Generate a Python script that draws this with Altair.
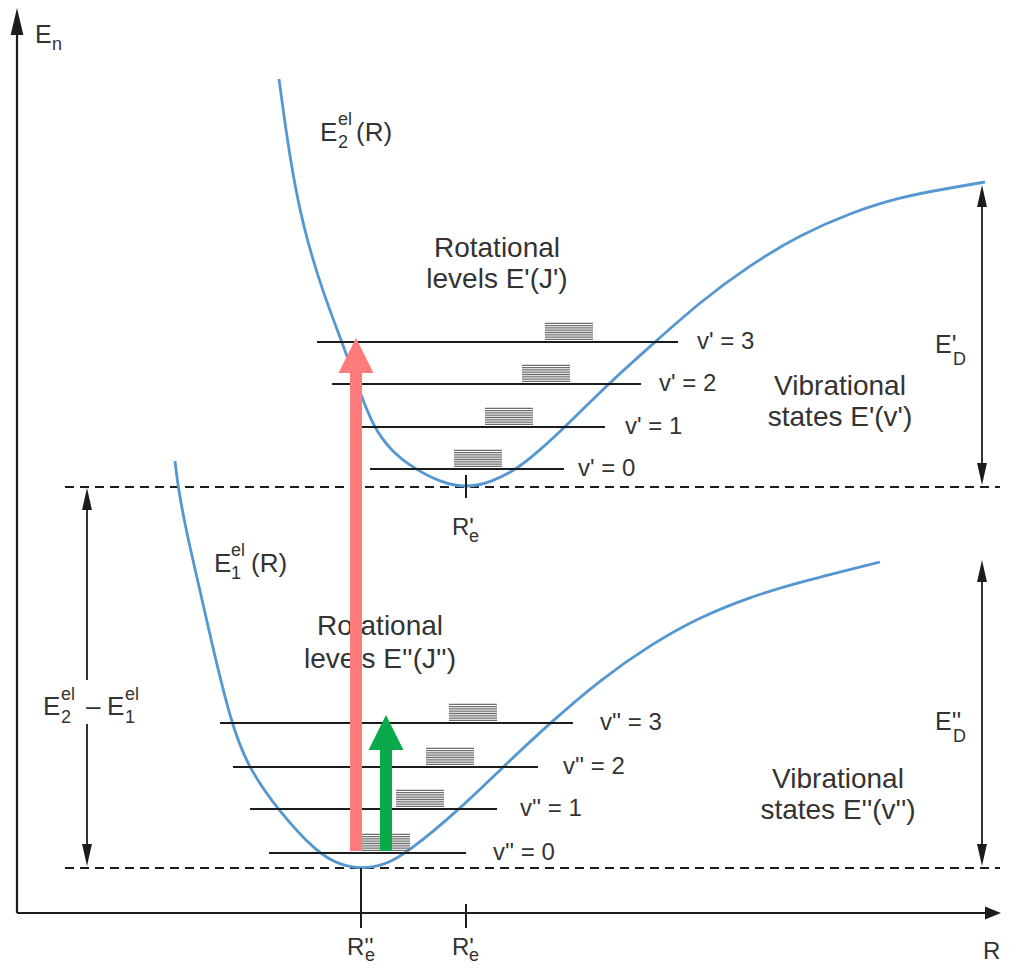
import altair as alt
import pandas as pd

# ---------------- data ----------------
# potential curves (R, E)
upper_R = [279, 290, 303, 323, 342, 357, 373, 392, 415, 440, 466, 492, 517, 540, 565, 608, 655, 700, 750, 800, 850, 900, 950, 985]
upper_E = [895, 814, 747, 681, 632, 590, 547, 522, 505, 492, 486, 492, 505, 524, 547, 590, 632, 672, 709, 739, 761, 777, 786, 792]
lower_R = [175, 178, 186, 196, 211, 231, 248, 277, 317, 340, 362, 385, 407, 460, 503, 550, 600, 650, 700, 750, 800, 880]
lower_E = [513, 487, 444, 401, 334, 251, 207, 165, 121, 109, 105, 109, 121, 165, 207, 251, 294, 329, 357, 377, 392, 412]

# vibrational levels
level_names = ["v' = 3", "v' = 2", "v' = 1", "v' = 0", "v'' = 3", "v'' = 2", "v'' = 1", "v'' = 0"]
level_E = [632, 590, 547, 505, 251, 207, 165, 121]
level_R0 = [317, 332, 362, 370, 220, 233, 250, 269]
level_R1 = [678, 641, 605, 564, 573, 538, 497, 466]
level_label_R = [697, 659, 625, 578, 600, 563, 520, 493]
# rotational level blocks (left edge)
rot_R0 = [545, 522, 485, 454, 449, 426, 396, 362]
rot_width = 48
n_rot = 8

# dissociation / minimum reference lines
dashed_E = [487, 106]
dashed_R = [65, 1000]

# axes
axis_R0, axis_R1 = 17, 990
axis_E0, axis_E1 = 61, 945
axis_tip_R, axis_tip_E = 1001, 966

# ticks (R, E from, E to)
tick_R = [361, 466, 466]
tick_E0 = [46, 46, 476]
tick_E1 = [106, 70, 499]

# double arrows (R, top tip, bottom tip)
darrow_R = [982, 982, 87]
darrow_top = [789, 414, 486]
darrow_bot = [489, 108, 108]
left_gap = [250, 294]

# transitions (R, E start, E tip)
trans_name = ["red", "green"]
trans_R = [356, 386]
trans_E0 = [123, 123]
trans_tip = [636, 259]
trans_color = ["#ff7b7b", "#0aaa4a"]

# ---------------- helpers ----------------
XS = alt.Scale(domain=[8, 1002], nice=False, zero=False)
YS = alt.Scale(domain=[8, 966], nice=False, zero=False)


def X(f):
    return alt.X(f, type="quantitative", scale=XS, axis=None)


def Y(f):
    return alt.Y(f, type="quantitative", scale=YS, axis=None)


LINE = "#1c1c1c"
TEXT = "#333333"
FONT = "Liberation Sans"

layers = []

# dashed lines
dash_df = pd.DataFrame({"E": dashed_E, "R0": dashed_R[0], "R1": dashed_R[1]})
layers.append(alt.Chart(dash_df).mark_rule(color=LINE, strokeWidth=1.8, strokeDash=[9, 6]).encode(
    x=X("R0"), x2="R1", y=Y("E")))

# curves
curve_df = pd.concat([
    pd.DataFrame({"R": upper_R, "E": upper_E, "c": "upper", "o": range(len(upper_R))}),
    pd.DataFrame({"R": lower_R, "E": lower_E, "c": "lower", "o": range(len(lower_R))}),
])
layers.append(alt.Chart(curve_df).mark_line(color="#5597d1", strokeWidth=2.8, interpolate="basis").encode(
    x=X("R"), y=Y("E"), detail="c:N", order="o:Q"))

# level lines
lev_df = pd.DataFrame({"name": level_names, "E": level_E, "R0": level_R0, "R1": level_R1,
                       "LR": level_label_R, "rot": rot_R0})
layers.append(alt.Chart(lev_df).mark_rule(color=LINE, strokeWidth=2.2).encode(
    x=X("R0"), x2="R1", y=Y("E")))

# rotational stripes
rows = []
for e, r0 in zip(level_E, rot_R0):
    for k in range(n_rot):
        rows.append({"E": e + 2.6 + k * 2.3, "R0": r0, "R1": r0 + rot_width})
stripe_df = pd.DataFrame(rows)
layers.append(alt.Chart(stripe_df).mark_rule(color="#6e6e6e", strokeWidth=1.3).encode(
    x=X("R0"), x2="R1", y=Y("E")))

# level labels
layers.append(alt.Chart(lev_df).mark_text(align="left", baseline="middle", font=FONT, fontSize=24,
                                          color=TEXT).encode(x=X("LR"), y=Y("E"), text="name:N"))

# ---------------- text labels ----------------
M, S = 26, 18
txt_left = [
    # (R, E baseline, text, size)
    (35, 931, "E", 25), (52, 924, "n", S),
    (320, 833, "E", M), (338, 849, "el", S), (338, 826, "2", S), (356, 833, "(R)", M),
    (214, 402, "E", M), (231, 418, "el", S), (231, 395, "1", S), (251, 402, "(R)", M),
    (935, 621, "E'", 25), (953, 609, "D", S),
    (935, 244, "E''", 25), (953, 232, "D", S),
    (43, 259, "E", M), (61, 274, "el", S), (61, 251, "2", S), (86, 259, "\u2013", M),
    (107, 259, "E", M), (125, 274, "el", S), (125, 251, "1", S),
    (347, 19, "R''", 24), (365, 13, "e", S),
    (452, 19, "R'", 24), (469, 13, "e", S),
    (452, 439, "R'", 24), (469, 432, "e", S),
    (983, 15, "R", 24),
]
tl_df = pd.DataFrame(txt_left, columns=["R", "E", "t", "s"])
layers.append(alt.Chart(tl_df).mark_text(align="left", baseline="alphabetic", font=FONT, color=TEXT).encode(
    x=X("R"), y=Y("E"), text="t:N", size=alt.Size("s:Q", scale=None, legend=None)))

txt_center = [
    (497, 717, "Rotational"), (497, 686, "levels E'(J')"),
    (840, 579, "Vibrational"), (840, 548, "states E'(v')"),
    (380, 339, "Rotational"), (380, 306, "levels E''(J'')"),
    (838, 186, "Vibrational"), (838, 155, "states E''(v'')"),
]
tc_df = pd.DataFrame(txt_center, columns=["R", "E", "t"])
layers.append(alt.Chart(tc_df).mark_text(align="center", baseline="alphabetic", font=FONT, fontSize=28,
                                         color=TEXT).encode(x=X("R"), y=Y("E"), text="t:N"))

# ---------------- axes ----------------
ax_df = pd.DataFrame({"R0": [axis_R0, axis_R0], "R1": [axis_R0, axis_R1],
                      "E0": [axis_E0, axis_E0], "E1": [axis_E1, axis_E0]})
layers.append(alt.Chart(ax_df).mark_rule(color=LINE, strokeWidth=2.2).encode(
    x=X("R0"), x2="R1", y=Y("E0"), y2="E1"))

up_head = pd.DataFrame({"R": [axis_R0], "E": [axis_tip_E - 13.5]})
layers.append(alt.Chart(up_head).mark_point(shape="M0,-1L0.47,1L-0.47,1Z", filled=True, opacity=1,
                                            color=LINE, size=27 * 27).encode(x=X("R"), y=Y("E")))
right_head = pd.DataFrame({"R": [axis_tip_R - 8], "E": [axis_E0]})
layers.append(alt.Chart(right_head).mark_point(shape="M1,0L-1,0.8L-1,-0.8Z", filled=True, opacity=1,
                                               color=LINE, size=16 * 16).encode(x=X("R"), y=Y("E")))

# ticks
tick_df = pd.DataFrame({"R": tick_R, "E0": tick_E0, "E1": tick_E1})
layers.append(alt.Chart(tick_df).mark_rule(color=LINE, strokeWidth=2).encode(
    x=X("R"), y=Y("E0"), y2="E1"))

# double arrows
seg = []
for r, t, b in zip(darrow_R, darrow_top, darrow_bot):
    if r == darrow_R[2]:
        seg.append({"R": r, "E0": b + 10, "E1": left_gap[0]})
        seg.append({"R": r, "E0": left_gap[1], "E1": t - 10})
    else:
        seg.append({"R": r, "E0": b + 10, "E1": t - 10})
seg_df = pd.DataFrame(seg)
layers.append(alt.Chart(seg_df).mark_rule(color=LINE, strokeWidth=1.8).encode(
    x=X("R"), y=Y("E0"), y2="E1"))
dh_up = pd.DataFrame({"R": darrow_R, "E": [t - 11 for t in darrow_top]})
dh_dn = pd.DataFrame({"R": darrow_R, "E": [b + 11 for b in darrow_bot]})
layers.append(alt.Chart(dh_up).mark_point(shape="M0,-1L0.45,1L-0.45,1Z", filled=True, opacity=1,
                                          color=LINE, size=22 * 22).encode(x=X("R"), y=Y("E")))
layers.append(alt.Chart(dh_dn).mark_point(shape="M0,1L0.45,-1L-0.45,-1Z", filled=True, opacity=1,
                                          color=LINE, size=22 * 22).encode(x=X("R"), y=Y("E")))

# transitions
for name, r, e0, tip, col in zip(trans_name, trans_R, trans_E0, trans_tip, trans_color):
    shaft = pd.DataFrame({"R": [r], "E0": [e0], "E1": [tip - 32]})
    layers.append(alt.Chart(shaft).mark_rule(color=col, strokeWidth=12, strokeCap="butt").encode(
        x=X("R"), y=Y("E0"), y2="E1"))
    head = pd.DataFrame({"R": [r], "E": [tip - 17.5]})
    layers.append(alt.Chart(head).mark_point(shape="M0,-1L1,1L-1,1Z", filled=True, opacity=1,
                                             color=col, size=35 * 35, strokeWidth=0).encode(
        x=X("R"), y=Y("E")))

chart = alt.layer(*layers).properties(
    width=994, height=958, padding=0, autosize="none", background="white"
).configure_view(stroke=None)

chart.save("out.html", embed_options={"renderer": "svg", "actions": False})
